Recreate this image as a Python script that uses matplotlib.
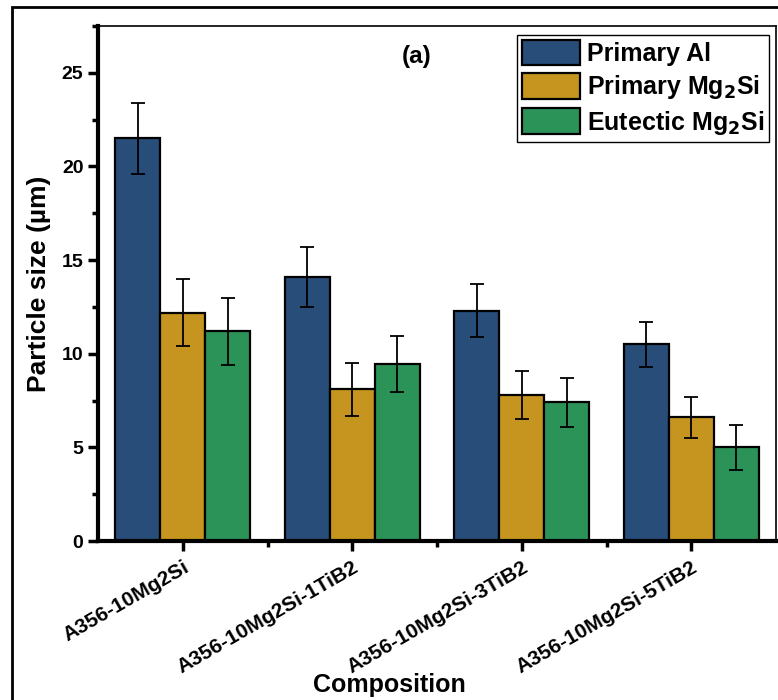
import matplotlib.pyplot as plt
import matplotlib.patches as mpatches
from matplotlib.ticker import MultipleLocator, FixedLocator
import numpy as np

plt.rcParams['font.family'] = ['Liberation Sans', 'DejaVu Sans']
plt.rcParams['font.weight'] = 'bold'
plt.rcParams['mathtext.default'] = 'bf'

COMPOSITIONS = ['A356-10Mg2Si', 'A356-10Mg2Si-1TiB2', 'A356-10Mg2Si-3TiB2', 'A356-10Mg2Si-5TiB2']

# mean particle size and error (um)
primary_al = [21.5, 14.1, 12.3, 10.5]
primary_al_err = [1.9, 1.6, 1.4, 1.2]
primary_mg2si = [12.2, 8.1, 7.8, 6.6]
primary_mg2si_err = [1.8, 1.4, 1.3, 1.1]
eutectic_mg2si = [11.2, 9.45, 7.4, 5.0]
eutectic_mg2si_err = [1.8, 1.5, 1.3, 1.2]

SERIES = [
	(primary_al, primary_al_err, 'Primary Al', '#274d78'),
	(primary_mg2si, primary_mg2si_err, 'Primary Mg$_2$Si', '#c6951f'),
	(eutectic_mg2si, eutectic_mg2si_err, 'Eutectic Mg$_2$Si', '#2c9358'),
]

BAR_W = 0.265
ERR_CONFIG = {"ecolor": 'black', "capsize": 5, "elinewidth": 1.3, "capthick": 1.3}

fig = plt.figure(figsize=(7.78, 7.0), dpi=100)
ax = fig.add_axes([98/778, 1 - 541/700, (776 - 98)/778, (541 - 26)/700])

x = np.arange(len(COMPOSITIONS))
for i, (vals, errs, label, color) in enumerate(SERIES):
	ax.bar(x + (i - 1)*BAR_W, vals, BAR_W, yerr=errs, color=color,
		edgecolor='black', linewidth=1.6, label=label, error_kw=ERR_CONFIG)

ax.set_xlim(-0.5, 3.5)
ax.set_ylim(0, 27.5)
ax.set_xticks(x)
ax.set_xticklabels(COMPOSITIONS, rotation=30, ha='right', rotation_mode='anchor',
	fontsize=15, fontweight='bold')
ax.xaxis.set_minor_locator(FixedLocator([0.5, 1.5, 2.5]))
ax.yaxis.set_major_locator(MultipleLocator(5))
ax.yaxis.set_minor_locator(MultipleLocator(2.5))
ax.tick_params(axis='y', which='major', labelsize=14, length=7, width=2.5)
ax.tick_params(axis='x', which='major', length=7, width=2.5, pad=5)
ax.tick_params(which='minor', length=4, width=2.5)
for lbl in ax.get_yticklabels():
	lbl.set_fontweight('bold')

for side in ['left', 'bottom']:
	ax.spines[side].set_linewidth(3)
for side in ['top', 'right']:
	ax.spines[side].set_linewidth(1.2)

ax.set_ylabel('Particle size (µm)', fontsize=19, fontweight='bold', labelpad=8)
ax.set_xlabel('Composition', fontsize=18, fontweight='bold')
ax.xaxis.set_label_coords((389 - 98)/678, -(685 - 541)/515)
ax.xaxis.label.set_va('center')

ax.text((417 - 98)/678, (541 - 57)/515, '(a)', transform=ax.transAxes,
	ha='center', va='center', fontsize=17.5, fontweight='bold')

ax.legend(loc='upper right', bbox_to_anchor=(0.99, 0.983),
	prop={'weight': 'bold', 'size': 18}, frameon=True, fancybox=False,
	edgecolor='black', framealpha=1, handlelength=2.3, handleheight=1.2,
	handletextpad=0.3, borderpad=0.2, labelspacing=0.28, borderaxespad=0)

# outer frame around the whole figure
fig.add_artist(mpatches.Rectangle((12/778, -0.1), 1.2, 1.1 - 7/700,
	transform=fig.transFigure, fill=False, edgecolor='black', linewidth=2))

fig.savefig('out.png', dpi=100)
